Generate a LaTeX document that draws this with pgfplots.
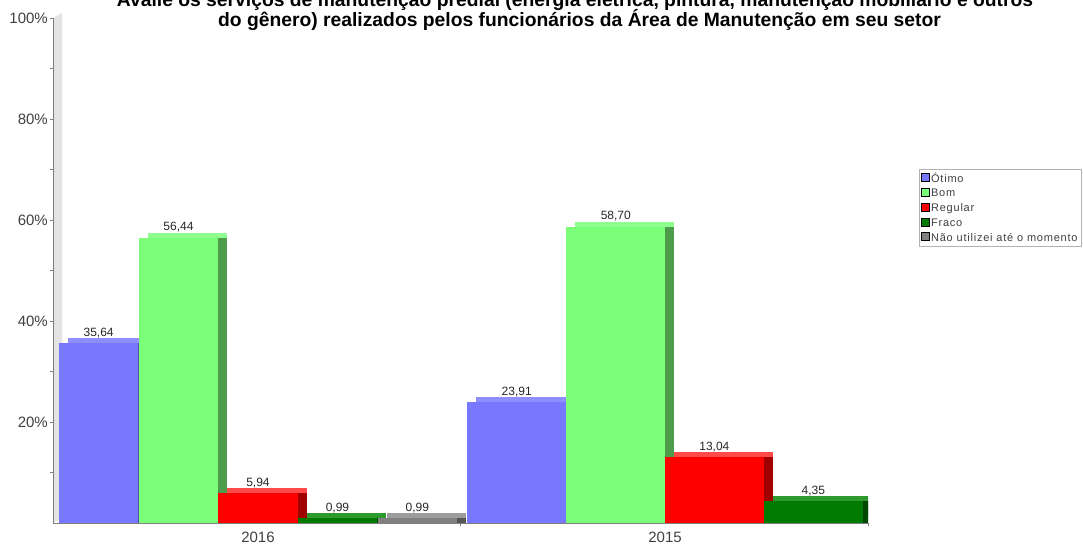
\documentclass[border=0pt]{standalone}
\usepackage{pgfplots}
\pgfplotsset{compat=1.18}
\usepackage{fontspec}
\setmainfont{Liberation Sans}
\newfontfamily\legfont[LetterSpace=7]{Liberation Sans}
\definecolor{cOt}{HTML}{7878FF}\definecolor{cOtT}{HTML}{8E8EFF}\definecolor{cOtS}{HTML}{4E4EB0}
\definecolor{cBo}{HTML}{7BFF7B}\definecolor{cBoT}{HTML}{8FFF8F}\definecolor{cBoS}{HTML}{4C9C4C}
\definecolor{cRe}{HTML}{FF0000}\definecolor{cReT}{HTML}{FF4A4A}\definecolor{cReS}{HTML}{A00000}
\definecolor{cFr}{HTML}{007A00}\definecolor{cFrT}{HTML}{2E9A2E}\definecolor{cFrS}{HTML}{004800}
\definecolor{cNa}{HTML}{808080}\definecolor{cNaT}{HTML}{9C9C9C}\definecolor{cNaS}{HTML}{555555}
\begin{document}
\begin{tikzpicture}
\useasboundingbox (0pt,0pt) rectangle (1083pt,543pt);
\fill[gray!22] (53pt,20pt) -- (62pt,25pt) -- (62pt,530pt) -- (53pt,525pt) -- cycle;
\begin{axis}[
  at={(53pt,20pt)}, anchor=south west,
  width=815pt, height=505pt, scale only axis,
  xmin=0, xmax=2, ymin=0, ymax=100,
  axis x line*=bottom, axis y line*=left,
  axis line style={gray},
  ybar, bar shift=0pt,
  xtick={0.503,1.502}, xticklabels={2016,2015},
  minor xtick={1,2},
  major x tick style={draw=none},
  ytick={20,40,60,80,100}, minor ytick={10,30,50,70,90},
  yticklabel={\pgfmathprintnumber{\tick}\%},
  tick align=outside, major tick length=3pt, minor tick length=3pt,
  tick style={gray},
  /pgf/number format/assume math mode=true,
  ticklabel style={font=\fontsize{15}{17}\selectfont, text=black!75},
  yticklabel style={inner sep=1pt, xshift=-1pt},
  xticklabel style={anchor=base, inner sep=0pt, yshift=-16pt},
  nodes near coords={\pgfmathprintnumber[fixed,fixed zerofill,precision=2,use comma]{\pgfplotspointmeta}},
  every node near coord/.append style={font=\fontsize{12}{14}\selectfont, text=black!85, anchor=base, yshift=7pt, inner sep=0pt},
  legend style={at={(1.0626,0.701)}, anchor=north west, draw=gray!60, font=\legfont\fontsize{11}{12}\selectfont, text=black!75, inner sep=1.5pt, row sep=1.5pt, cells={anchor=west}},
  legend image code/.code={\fill[#1] (0pt,-2.5pt) rectangle (8pt,5.5pt);},
  bar3d/.style n args={4}{fill=#1, draw=none, bar width=#4,
     preaction={fill=#2, transform canvas={shift={(9pt,5pt)}}},
     preaction={fill=#3, transform canvas={shift={(9pt,0pt)}}}, forget plot},
]
\addlegendimage{fill=cOt}\addlegendentry{Ótimo}
\addlegendimage{fill=cBo}\addlegendentry{Bom}
\addlegendimage{fill=cRe}\addlegendentry{Regular}
\addlegendimage{fill=cFr}\addlegendentry{Fraco}
\addlegendimage{fill=cNa}\addlegendentry{Não utilizei até o momento}
% 2016
\addplot[bar3d={cOt}{cOtT}{cOtS}{0.195}] coordinates {(0.112,35.64)};
\addplot[bar3d={cBo}{cBoT}{cBoS}{0.195}] coordinates {(0.308,56.44)};
\addplot[bar3d={cRe}{cReT}{cReS}{0.195}] coordinates {(0.503,5.94)};
\addplot[bar3d={cFr}{cFrT}{cFrS}{0.195}] coordinates {(0.698,0.99)};
\addplot[bar3d={cNa}{cNaT}{cNaS}{0.195}] coordinates {(0.894,0.99)};
% 2015
\addplot[bar3d={cOt}{cOtT}{cOtS}{0.243}] coordinates {(1.138,23.91)};
\addplot[bar3d={cBo}{cBoT}{cBoS}{0.243}] coordinates {(1.381,58.70)};
\addplot[bar3d={cRe}{cReT}{cReS}{0.243}] coordinates {(1.623,13.04)};
\addplot[bar3d={cFr}{cFrT}{cFrS}{0.243}] coordinates {(1.866,4.35)};
\end{axis}
\node[anchor=base, font=\bfseries\fontsize{19.3}{22}\selectfont] at (575pt,536pt) {Avalie os serviços de manutenção predial (energia elétrica, pintura, manutenção mobiliário e outros};
\node[anchor=base, font=\bfseries\fontsize{19.3}{22}\selectfont] at (579.5pt,516pt) {do gênero) realizados pelos funcionários da Área de Manutenção em seu setor};
\end{tikzpicture}
\end{document}
